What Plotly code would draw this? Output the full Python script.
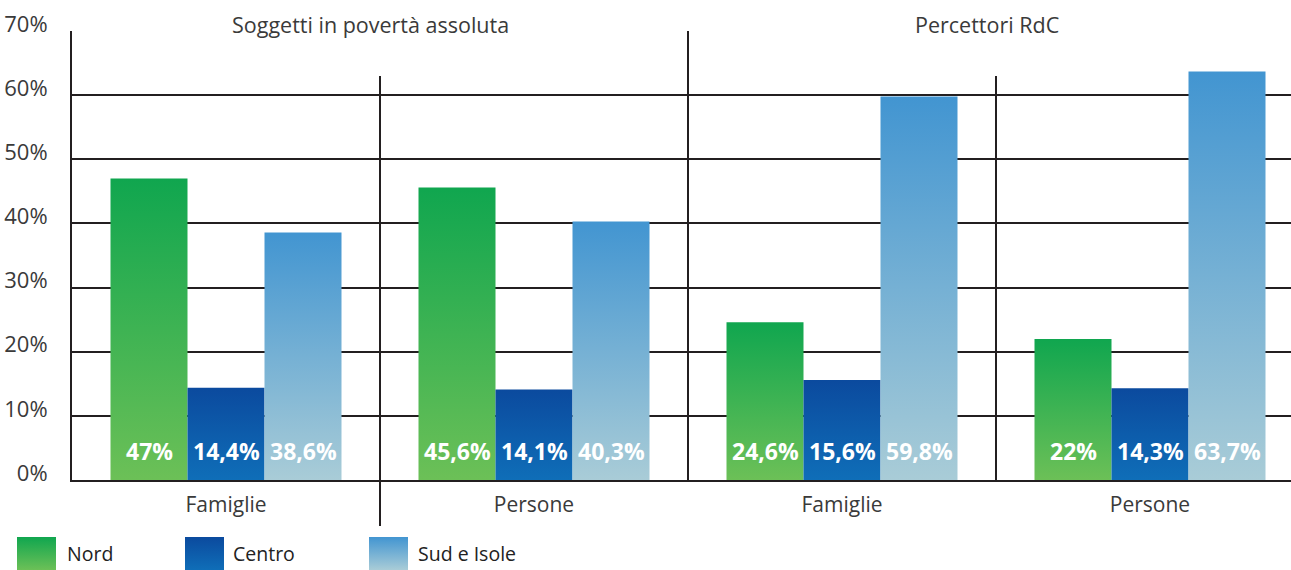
import plotly.graph_objects as go

# ---------------- data ----------------
groups = ["Famiglie", "Persone", "Famiglie", "Persone"]
panel_titles = ["Soggetti in povertà assoluta", "Percettori RdC"]
series_names = ["Nord", "Centro", "Sud e Isole"]
nord = [47.0, 45.6, 24.6, 22.0]
centro = [14.4, 14.1, 15.6, 14.3]
sud = [38.6, 40.3, 59.8, 63.7]
y_ticks = [0, 10, 20, 30, 40, 50, 60, 70]
grid_vals = [10, 20, 30, 40, 50, 60]

# ---------------- style ----------------
W, H = 1291, 570
FONT = "Open Sans"
TXT = "#3a3a3a"
LINE = "#231F20"
gradients = [  # (bottom, top)
    ("#6CC057", "#10A64F"),
    ("#0F6EB8", "#0B4A9E"),
    ("#A9CCD7", "#4295D1"),
]
BAR_W = 0.25
M_T = 31
PLOT_H = H - M_T
AXIS_PX = 480          # pixel row of the 0% line
LEFT_PX = 72           # pixel column of the y axis
GROUP_PX = 308         # pixel width of one group
y_dom0 = (H - AXIS_PX) / PLOT_H
x_dom0 = LEFT_PX / W
x_rng = [-0.5, -0.5 + (W - LEFT_PX) / GROUP_PX]

all_series = [nord, centro, sud]


def pct(v):
    return f"{v:g}".replace(".", ",") + "%"


fig = go.Figure()
annotations = []

for si, (name, vals) in enumerate(zip(series_names, all_series)):
    bot, top = gradients[si]
    for gi, v in enumerate(vals):
        c = gi + (si - 1) * BAR_W
        x0, x1 = c - BAR_W / 2, c + BAR_W / 2
        fig.add_trace(go.Scatter(
            x=[x0, x1, x1, x0, x0], y=[0, 0, v, v, 0],
            mode="lines", fill="toself", line=dict(width=0),
            fillgradient=dict(type="vertical", colorscale=[[0, bot], [1, top]]),
            showlegend=False, hoverinfo="skip", name=name,
            xaxis="x", yaxis="y",
        ))
        annotations.append(dict(
            x=c, y=4.5, xref="x", yref="y", text=pct(v), showarrow=False,
            font=dict(family=FONT, size=23, color="white", weight="bold"),
            xanchor="center", yanchor="middle",
        ))

# legend (drawn on its own small axis pair below the chart)
leg_x = [17, 185, 369]
leg_text_x = [65, 231, 416]
LEG_SW = 39
for si, name in enumerate(series_names):
    bot, top = gradients[si]
    a, b = leg_x[si], leg_x[si] + LEG_SW
    fig.add_trace(go.Scatter(
        x=[a, b, b, a, a], y=[0, 0, 1, 1, 0],
        mode="lines", fill="toself", line=dict(width=0),
        fillgradient=dict(type="vertical", colorscale=[[0, bot], [1, top]]),
        showlegend=False, hoverinfo="skip", xaxis="x2", yaxis="y2",
    ))
    annotations.append(dict(
        x=leg_text_x[si], y=0.5, xref="x2", yref="y2", text=name,
        showarrow=False, xanchor="left", yanchor="middle",
        font=dict(family=FONT, size=19.5, color="#222"),
    ))

# panel titles
for i, t in enumerate(panel_titles):
    annotations.append(dict(
        x=2 * i + 0.47, y=(H - 24) / PLOT_H, xref="x", yref="paper", text=t,
        showarrow=False, xanchor="center", yanchor="middle",
        font=dict(family=FONT, size=21.5, color=TXT),
    ))

shapes = [
    dict(type="line", xref="x", yref="paper", x0=0.5, x1=0.5,
         y0=(H - 526) / PLOT_H, y1=y_dom0 + 63 / 70 * (1 - y_dom0),
         line=dict(color=LINE, width=2)),
    dict(type="line", xref="x", yref="y", x0=1.5, x1=1.5, y0=0, y1=70,
         line=dict(color=LINE, width=2)),
    dict(type="line", xref="x", yref="y", x0=2.5, x1=2.5, y0=0, y1=63,
         line=dict(color=LINE, width=2)),
]

fig.update_layout(
    width=W, height=H, autosize=False,
    margin=dict(l=0, r=0, t=M_T, b=0, pad=0, autoexpand=False),
    paper_bgcolor="white", plot_bgcolor="white",
    showlegend=False,
    font=dict(family=FONT, color=TXT, size=20),
    xaxis=dict(domain=[x_dom0, 1], range=x_rng, tickvals=[0, 1, 2, 3],
               ticktext=groups, showgrid=False, zeroline=False,
               showline=True, linecolor=LINE, linewidth=2,
               ticks="", tickfont=dict(family=FONT, size=21, color=TXT),
               ticklabelstandoff=5, layer="below traces", fixedrange=True,
               automargin=False),
    yaxis=dict(domain=[y_dom0, 1], range=[0, 70], tickvals=y_ticks,
               ticktext=[f"{v}%" for v in y_ticks],
               showgrid=False, zeroline=False,
               showline=True, linecolor=LINE, linewidth=2, ticks="",
               tickfont=dict(family=FONT, size=22, color=TXT),
               ticklabelstandoff=18, ticklabelshift=-7, fixedrange=True,
               automargin=False,
               minor=dict(tickvals=grid_vals, showgrid=True, gridcolor=LINE,
                          gridwidth=2, ticks="")),
    xaxis2=dict(domain=[0, 1], range=[0, W], visible=False, anchor="y2",
                fixedrange=True, automargin=False),
    yaxis2=dict(domain=[0, (H - 537) / PLOT_H], range=[0, 1], visible=False,
                anchor="x2", fixedrange=True, automargin=False),
    annotations=annotations,
    shapes=shapes,
)

fig.write_html(
    "out.html",
    config=dict(displayModeBar=False, staticPlot=True),
    post_script=(
        "document.documentElement.style.margin='0';"
        "document.body.style.margin='0';"
        "document.documentElement.style.overflow='hidden';"
        "document.body.style.overflow='hidden';"
    ),
)
